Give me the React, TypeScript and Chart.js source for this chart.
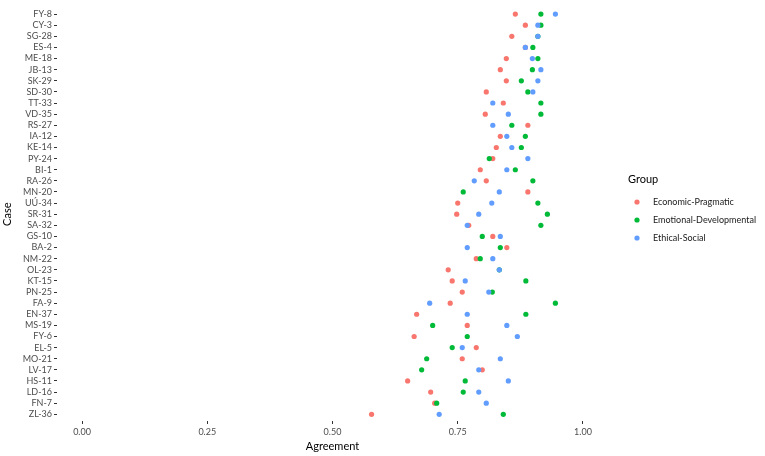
import React, { useEffect, useRef } from 'react';
import { Chart, registerables } from 'chart.js';

Chart.register(...registerables);

const cases = [
  'FY-8', 'CY-3', 'SG-28', 'ES-4', 'ME-18', 'JB-13', 'SK-29', 'SD-30', 'TT-33', 'VD-35',
  'RS-27', 'IA-12', 'KE-14', 'PY-24', 'BI-1', 'RA-26', 'MN-20', 'UÚ-34', 'SR-31', 'SA-32',
  'GS-10', 'BA-2', 'NM-22', 'OL-23', 'KT-15', 'PN-25', 'FA-9', 'EN-37', 'MS-19', 'FY-6',
  'EL-5', 'MO-21', 'LV-17', 'HS-11', 'LD-16', 'FN-7', 'ZL-36',
];

const economicPragmatic = [
  0.865, 0.885, 0.858, 0.885, 0.847, 0.835, 0.847, 0.807, 0.841, 0.805,
  0.890, 0.835, 0.827, 0.820, 0.795, 0.807, 0.890, 0.750, 0.748, 0.772,
  0.820, 0.848, 0.787, 0.731, 0.739, 0.759, 0.735, 0.668, 0.769, 0.663,
  0.787, 0.759, 0.799, 0.650, 0.696, 0.704, 0.578,
];

const emotionalDevelopmental = [
  0.916, 0.916, 0.910, 0.900, 0.910, 0.899, 0.877, 0.890, 0.916, 0.916,
  0.858, 0.885, 0.877, 0.813, 0.865, 0.900, 0.761, 0.910, 0.929, 0.916,
  0.799, 0.835, 0.795, 0.833, 0.886, 0.819, 0.945, 0.886, 0.700, 0.769,
  0.739, 0.688, 0.678, 0.765, 0.761, 0.708, 0.841,
];

const ethicalSocial = [
  0.945, 0.910, 0.910, 0.885, 0.899, 0.916, 0.910, 0.900, 0.820, 0.851,
  0.820, 0.848, 0.858, 0.890, 0.848, 0.783, 0.833, 0.818, 0.792, 0.769,
  0.835, 0.769, 0.820, 0.833, 0.765, 0.812, 0.694, 0.769, 0.848, 0.869,
  0.759, 0.835, 0.792, 0.851, 0.792, 0.807, 0.713,
];

const groups = ['Economic-Pragmatic', 'Emotional-Developmental', 'Ethical-Social'];
const groupColors = ['#F8766D', '#00BA38', '#619CFF'];
const xTickValues = [0, 0.25, 0.5, 0.75, 1];

const FONT = 'Lato, "DejaVu Sans", sans-serif';

const legendPlugin = {
  id: 'ggLegend',
  afterDraw(chart: any) {
    const ctx = chart.ctx;
    ctx.save();
    ctx.fillStyle = '#000';
    ctx.font = `11px ${FONT}`;
    ctx.textAlign = 'left';
    ctx.textBaseline = 'middle';
    ctx.fillText('Group', 628, 179);
    ctx.font = `9px ${FONT}`;
    groups.forEach((g, i) => {
      const y = 202 + i * 18;
      ctx.beginPath();
      ctx.fillStyle = groupColors[i];
      ctx.arc(637, y, 2.6, 0, Math.PI * 2);
      ctx.fill();
      ctx.fillStyle = '#1a1a1a';
      ctx.fillText(g, 653, y);
    });
    ctx.restore();
  },
};

export default function App() {
  const canvasRef = useRef<HTMLCanvasElement | null>(null);

  useEffect(() => {
    const canvas = canvasRef.current;
    if (!canvas) return;
    const series = [economicPragmatic, emotionalDevelopmental, ethicalSocial];
    const chart = new Chart(canvas, {
      type: 'scatter',
      data: {
        datasets: series.map((vals, gi) => ({
          label: groups[gi],
          data: vals.map((v, i) => ({ x: v, y: i })),
          backgroundColor: groupColors[gi],
          borderWidth: 0,
          pointRadius: 2.6,
          pointHoverRadius: 2.6,
          order: 2 - gi,
        })),
      },
      options: {
        animation: false,
        responsive: false,
        devicePixelRatio: 1,
        layout: { padding: { top: 0, right: 157, bottom: 0, left: 0 } },
        plugins: {
          legend: { display: false },
          tooltip: { enabled: false },
        },
        scales: {
          x: {
            type: 'linear',
            min: -0.05,
            max: 1.05,
            afterBuildTicks: (s: any) => {
              s.ticks = xTickValues.map((v) => ({ value: v }));
            },
            afterFit: (s: any) => {
              s.height = 35;
            },
            ticks: {
              callback: (v: any) => Number(v).toFixed(2),
              font: { size: 9, family: FONT },
              color: '#4d4d4d',
              padding: 3,
              maxRotation: 0,
              autoSkip: false,
            },
            grid: {
              display: true,
              drawOnChartArea: false,
              drawTicks: true,
              tickLength: 3,
              color: '#333333',
            },
            border: { display: false },
            title: {
              display: true,
              text: 'Agreement',
              font: { size: 11, family: FONT },
              color: '#000',
              padding: { top: 3, bottom: 3 },
            },
          },
          y: {
            type: 'linear',
            reverse: true,
            min: -0.6,
            max: 36.6,
            afterBuildTicks: (s: any) => {
              s.ticks = cases.map((_, i) => ({ value: i }));
            },
            afterFit: (s: any) => {
              s.width = 57;
            },
            ticks: {
              callback: (_v: any, idx: number) => cases[idx],
              font: { size: 9, family: FONT },
              color: '#4d4d4d',
              padding: 2,
              autoSkip: false,
            },
            grid: {
              display: true,
              drawOnChartArea: false,
              drawTicks: true,
              tickLength: 3,
              color: '#333333',
            },
            border: { display: false },
            title: {
              display: true,
              text: 'Case',
              font: { size: 11, family: FONT },
              color: '#000',
              padding: { top: 1, bottom: 1 },
            },
          },
        },
      },
      plugins: [legendPlugin],
    });
    return () => chart.destroy();
  }, []);

  return (
    <div style={{ position: 'absolute', left: 0, top: 0, width: 765, height: 456, background: '#fff' }}>
      <canvas ref={canvasRef} width={765} height={456} />
    </div>
  );
}
